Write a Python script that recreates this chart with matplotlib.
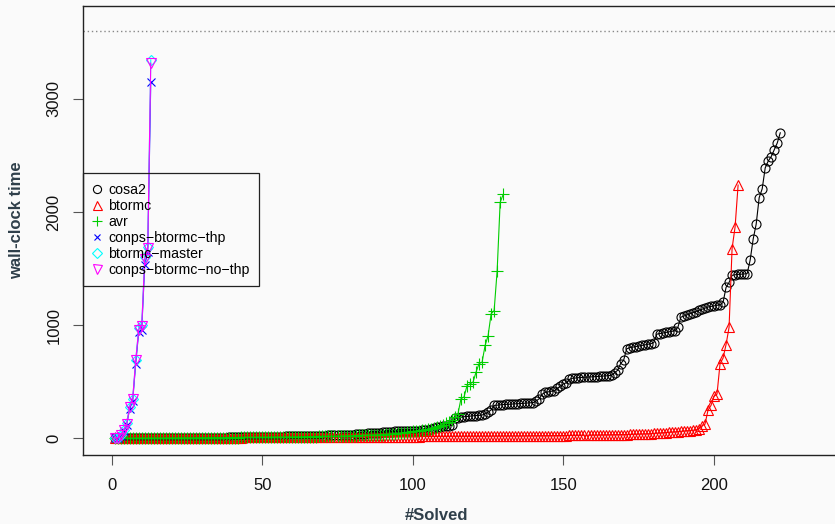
"""Cactus plot: wall-clock time against number of solved instances."""
import matplotlib
matplotlib.use("Agg")
import matplotlib.pyplot as plt
from matplotlib.lines import Line2D

# ---- data ----------------------------------------------------------------
cosa2 = [
    0.1, 0.1, 0.2, 0.2, 0.3, 0.3, 0.4, 0.4, 0.5, 0.5,
    0.6, 0.6, 0.7, 0.8, 0.9, 1.0, 1.1, 1.2, 1.3, 1.4,
    1.5, 1.6, 1.8, 2.0, 2.2, 2.4, 2.6, 2.8, 3.0, 3.3,
    3.6, 3.9, 4.2, 4.5, 4.8, 5.1, 5.5, 5.9, 6.3, 6.7,
    7.1, 7.5, 8.0, 8.5, 9.0, 9.5, 10, 10.5, 11, 11.5,
    12, 12.5, 13, 13.5, 14, 14.5, 15, 15.5, 16, 16.5,
    17, 17.5, 18, 18.5, 19, 19.5, 20, 20.5, 21, 22,
    23, 24, 25, 26, 27, 28, 29, 30, 31, 32,
    34, 36, 38, 40, 42, 44, 46, 48, 50, 52,
    54, 56, 58, 60, 61, 62, 63, 64, 65, 66,
    67, 68, 70, 72, 75, 80, 90, 95, 100, 105,
    110, 112, 115, 175, 180, 185, 190, 192, 195, 198,
    200, 202, 205, 215, 230, 250, 290, 292, 295, 297,
    299, 300, 302, 304, 305, 307, 309, 311, 313, 315,
    330, 350, 390, 405, 410, 415, 420, 440, 460, 480,
    490, 520, 530, 532, 535, 537, 539, 540, 542, 543,
    545, 547, 549, 551, 553, 555, 580, 600, 660, 690,
    790, 800, 805, 810, 815, 820, 825, 830, 835, 845,
    920, 925, 930, 935, 940, 945, 950, 980, 1070, 1080,
    1090, 1100, 1110, 1120, 1130, 1140, 1150, 1160, 1165, 1170,
    1175, 1180, 1200, 1333, 1377, 1440, 1445, 1448, 1450, 1452,
    1455, 1574, 1760, 1892, 2127, 2205, 2390, 2450, 2490, 2550,
    2610, 2700,
]

btormc = [
    0.2, 0.3, 0.4, 0.5, 0.6, 0.8, 0.9, 1.0, 1.1, 1.3,
    1.4, 1.5, 1.7, 1.8, 2.0, 2.1, 2.3, 2.4, 2.6, 2.7,
    2.9, 3.0, 3.2, 3.3, 3.5, 3.6, 3.8, 3.9, 4.1, 4.2,
    4.4, 4.5, 4.7, 4.8, 5.0, 5.1, 5.3, 5.4, 5.6, 5.7,
    5.9, 6.0, 6.2, 6.3, 6.5, 6.6, 6.8, 6.9, 7.1, 7.2,
    7.4, 7.5, 7.7, 7.8, 8.0, 8.1, 8.3, 8.4, 8.6, 8.7,
    8.9, 9.0, 9.2, 9.3, 9.5, 9.6, 9.8, 9.9, 10.1, 10.2,
    10.4, 10.5, 10.7, 10.8, 11.0, 11.1, 11.3, 11.4, 11.6, 11.7,
    11.9, 12.0, 12.2, 12.3, 12.5, 12.6, 12.8, 12.9, 13.1, 13.2,
    13.4, 13.5, 13.7, 13.8, 14.0, 14.1, 14.3, 14.4, 14.6, 14.7,
    14.9, 15.0, 15.2, 15.3, 15.5, 15.6, 15.8, 15.9, 16.1, 16.2,
    16.4, 16.5, 16.7, 16.8, 17.0, 17.1, 17.3, 17.4, 17.6, 17.7,
    17.9, 18.0, 18.2, 18.3, 18.5, 18.6, 18.8, 18.9, 19.1, 19.2,
    19.4, 19.5, 19.7, 19.8, 20.0, 20.2, 20.4, 20.6, 20.8, 21.0,
    21.2, 21.4, 21.6, 21.8, 22.0, 22.3, 22.6, 22.9, 23.2, 23.5,
    23.8, 24.1, 24.4, 24.7, 25.0, 25.4, 25.8, 26.2, 26.6, 27.0,
    27.5, 28.0, 28.5, 29.0, 29.5, 30, 30.5, 31, 31.5, 32,
    32.5, 33, 34, 35, 36, 37, 38, 39, 40, 42,
    44, 46, 48, 50, 52, 54, 56, 58, 60, 63,
    66, 68, 70, 72, 85, 110, 123, 247, 290, 370,
    390, 658, 708, 828, 980, 1677, 1868, 2238,
]

avr = [
    0.1, 0.1, 0.2, 0.2, 0.3, 0.3, 0.4, 0.5, 0.5, 0.6,
    0.7, 0.8, 0.9, 1.0, 1.1, 1.2, 1.3, 1.5, 1.6, 1.8,
    2.0, 2.2, 2.4, 2.6, 2.8, 3.0, 3.2, 3.4, 3.6, 3.8,
    4.0, 4.2, 4.4, 4.6, 4.8, 5.0, 5.2, 5.4, 5.6, 5.8,
    6.0, 6.2, 6.4, 6.6, 6.8, 7.0, 7.2, 7.4, 7.6, 7.8,
    8.0, 8.3, 8.6, 8.9, 9.2, 9.5, 9.8, 10, 10.5, 11,
    11.5, 12, 12.5, 13, 13.5, 14, 14.5, 15, 15.5, 16,
    16.5, 17, 17.5, 18, 18.5, 19, 19.5, 20, 21, 22,
    23, 24, 25, 26, 27, 28, 29, 30, 31, 32,
    34, 36, 38, 40, 42, 45, 48, 52, 56, 60,
    64, 68, 72, 76, 80, 85, 90, 100, 110, 120,
    130, 145, 160, 190, 217, 350, 364, 465, 480, 496,
    585, 660, 672, 820, 907, 1100, 1128, 1480, 2085, 2155,
]

conps_thp = [0.5, 5, 20, 60, 120, 260, 330, 660, 940, 960, 1533, 1650, 3150]
btormc_master = [0.5, 6, 30, 70, 130, 280, 350, 690, 970, 1000, 1600, 1690, 3345]
conps_no_thp = [0.5, 5, 28, 70, 128, 276, 350, 687, 960, 995, 1580, 1685, 3315]

timeout = 3600

series = [
    ("cosa2", cosa2, "black", "o", 6.5),
    ("btormc", btormc, "#ff0000", "^", 7.2),
    ("avr", avr, "#00cd00", "+", 8.5),
    ("conps\u2212btormc\u2212thp", conps_thp, "#0000ff", "x", 5.5),
    ("btormc\u2212master", btormc_master, "#00ffff", "D", 5.4),
    ("conps\u2212btormc\u2212no\u2212thp", conps_no_thp, "#ff00ff", "v", 7.2),
]

# ---- style ----------------------------------------------------------------
BG = "#fafafa"
TITLE_COLOR = "#2f3f4a"
plt.rcParams.update({
    "font.family": ["Liberation Sans", "DejaVu Sans"],
    "font.size": 12,
    "axes.linewidth": 1.0,
    "lines.linewidth": 0.8,
})

fig = plt.figure(figsize=(8.35, 5.24), dpi=100)
fig.patch.set_facecolor(BG)
# plot box: left 83px, bottom 455px, top 6px; right edge runs off the canvas
ax = fig.add_axes((83 / 835, 69 / 524, 756 / 835, 449 / 524))
ax.set_facecolor(BG)

for label, vals, color, marker, ms in series:
    xs = list(range(1, len(vals) + 1))
    ax.plot(xs, vals, color=color, lw=0.8, marker=marker, ms=ms,
            mfc="none", mec=color, mew=0.8, label=label)

ax.axhline(timeout, color="#888888", lw=1.0, linestyle=(0, (1, 2)))

ax.set_xlim(-9.5, 241.5)
ax.set_ylim(-148.5, 3821)
ax.set_xticks([0, 50, 100, 150, 200])
ax.set_yticks([0, 1000, 2000, 3000])

ax.tick_params(axis="both", length=7.2, width=0.8, color="#555555",
               labelcolor="#111111", labelsize=12)
ax.tick_params(axis="x", pad=9)
ax.tick_params(axis="y", pad=13.8)
for lab in ax.get_yticklabels():
    lab.set_rotation(90)
    lab.set_ha("center")
    lab.set_va("center")
for sp in ax.spines.values():
    sp.set_color("#222222")

handles = [
    Line2D([], [], linestyle="none", marker=m, ms=ms * 0.9, mfc="none",
           mec=c, mew=0.8, color=c)
    for _, _, c, m, ms in series
]
labels = [s[0] for s in series]
leg = ax.legend(handles, labels, loc="upper left", bbox_to_anchor=(0, 0.627),
                borderaxespad=0, frameon=True, fancybox=False,
                edgecolor="#222222", fontsize=10.2, handlelength=0.7,
                handletextpad=0.45, labelspacing=0.14, borderpad=0.65)
frame = leg.get_frame()
frame.set_facecolor("none")
frame.set_alpha(None)
frame.set_edgecolor("#222222")
frame.set_linewidth(0.9)

fig.text(437 / 835, 1 - 515 / 524, "#Solved", ha="center", va="center",
         fontsize=12, fontweight="bold", color=TITLE_COLOR)
fig.text(17 / 835, 1 - 220 / 524, "wall-clock time", ha="center",
         va="center", rotation=90, fontsize=12, fontweight="bold",
         color=TITLE_COLOR)

fig.savefig("out.png", dpi=100, facecolor=BG)
